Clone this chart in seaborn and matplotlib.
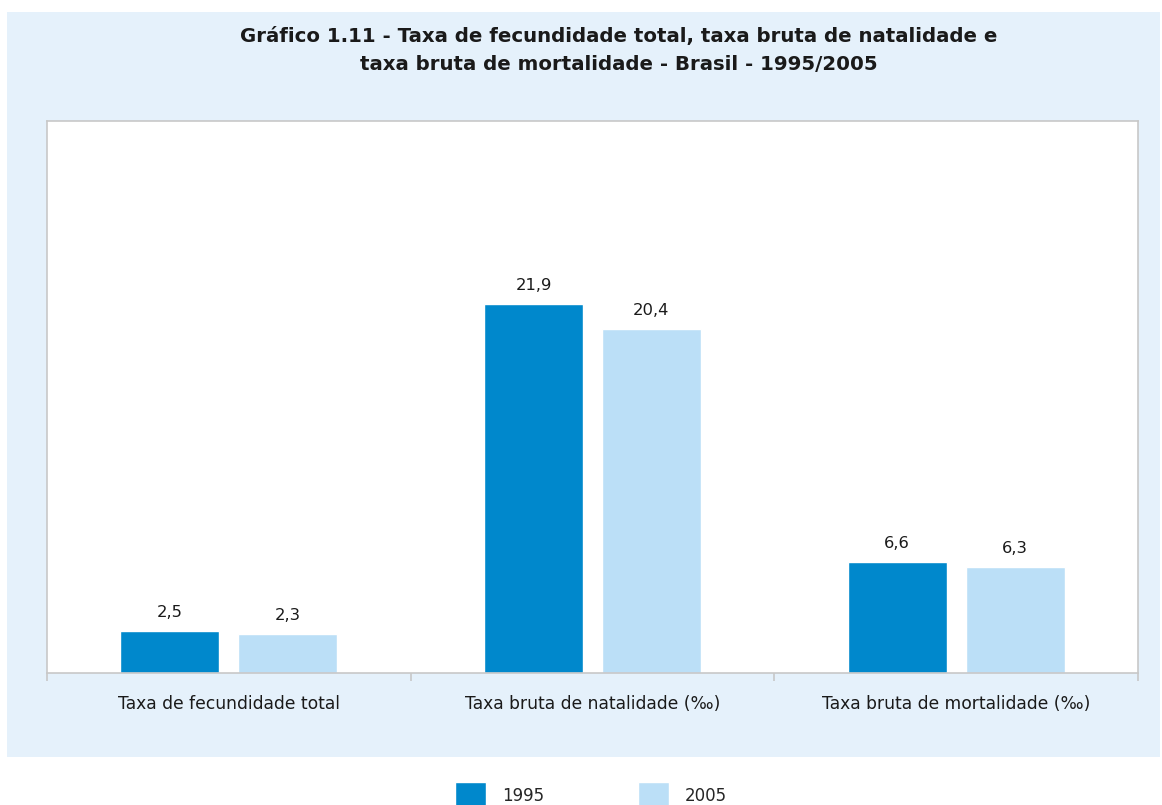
import matplotlib
matplotlib.use("Agg")
import matplotlib.pyplot as plt
from matplotlib.patches import Rectangle
import pandas as pd
import seaborn as sns

indicadores = [
    "Taxa de fecundidade total",
    "Taxa bruta de natalidade (‰)",
    "Taxa bruta de mortalidade (‰)",
]
anos = ["1995", "2005"]
valores_1995 = [2.5, 21.9, 6.6]
valores_2005 = [2.3, 20.4, 6.3]
cores = ["#0088CC", "#BBDFF7"]

df = pd.DataFrame({
    "indicador": indicadores * 2,
    "ano": [anos[0]] * 3 + [anos[1]] * 3,
    "valor": valores_1995 + valores_2005,
})

sns.set_theme(style="white")
plt.rcParams["font.family"] = ["DejaVu Sans"]

fig = plt.figure(figsize=(11.62, 8.05), dpi=100)
# fundo azul claro do quadro
fig.patches.append(Rectangle((7 / 1162, 48 / 805), 1153 / 1162, 745 / 805,
                             transform=fig.transFigure, facecolor="#E5F1FB",
                             edgecolor="none", zorder=-1))
ax = fig.add_axes([47 / 1162, 132 / 805, 1091 / 1162, 552 / 805])
ax.set_facecolor("white")

sns.barplot(data=df, x="indicador", y="valor", hue="ano", palette=cores,
            width=0.648, gap=0.16, order=indicadores, hue_order=anos,
            saturation=1, ax=ax, legend=True)

for cont in ax.containers:
    ax.bar_label(cont, labels=[f"{v:.1f}".replace(".", ",") for v in cont.datavalues],
                 padding=8, fontsize=11.8, color="#1a1a1a")

ax.set_xlim(-0.5, 2.5)
ax.set_ylim(0, 32.76)
ax.set_xlabel("")
ax.set_ylabel("")
ax.set_yticks([])
ax.set_xticks([-0.5, 0.5, 1.5, 2.5], minor=True)
ax.tick_params(axis="x", which="minor", length=6, width=1.2, color="#C8C8C8", bottom=True)
ax.tick_params(axis="x", which="major", length=0, pad=16, labelsize=12.3, labelcolor="#1a1a1a")
for s in ax.spines.values():
    s.set_color("#C8C8C8")
    s.set_linewidth(1.2)

handles, labels = ax.get_legend_handles_labels()
ax.get_legend().remove()
fig.legend(handles, labels, loc="center", bbox_to_anchor=(591 / 1162, 9 / 805),
           ncol=2, frameon=False, fontsize=12, handlelength=1.85, handleheight=2.2,
           handletextpad=1.0, columnspacing=5.6, borderpad=0)

fig.text(619 / 1162, (805 - 50.5) / 805,
         "Gráfico 1.11 - Taxa de fecundidade total, taxa bruta de natalidade e\n"
         "taxa bruta de mortalidade - Brasil - 1995/2005",
         ha="center", va="center", fontsize=14.2, fontweight="bold",
         linespacing=1.65, color="#1a1a1a")

fig.savefig("out.png", dpi=100)
